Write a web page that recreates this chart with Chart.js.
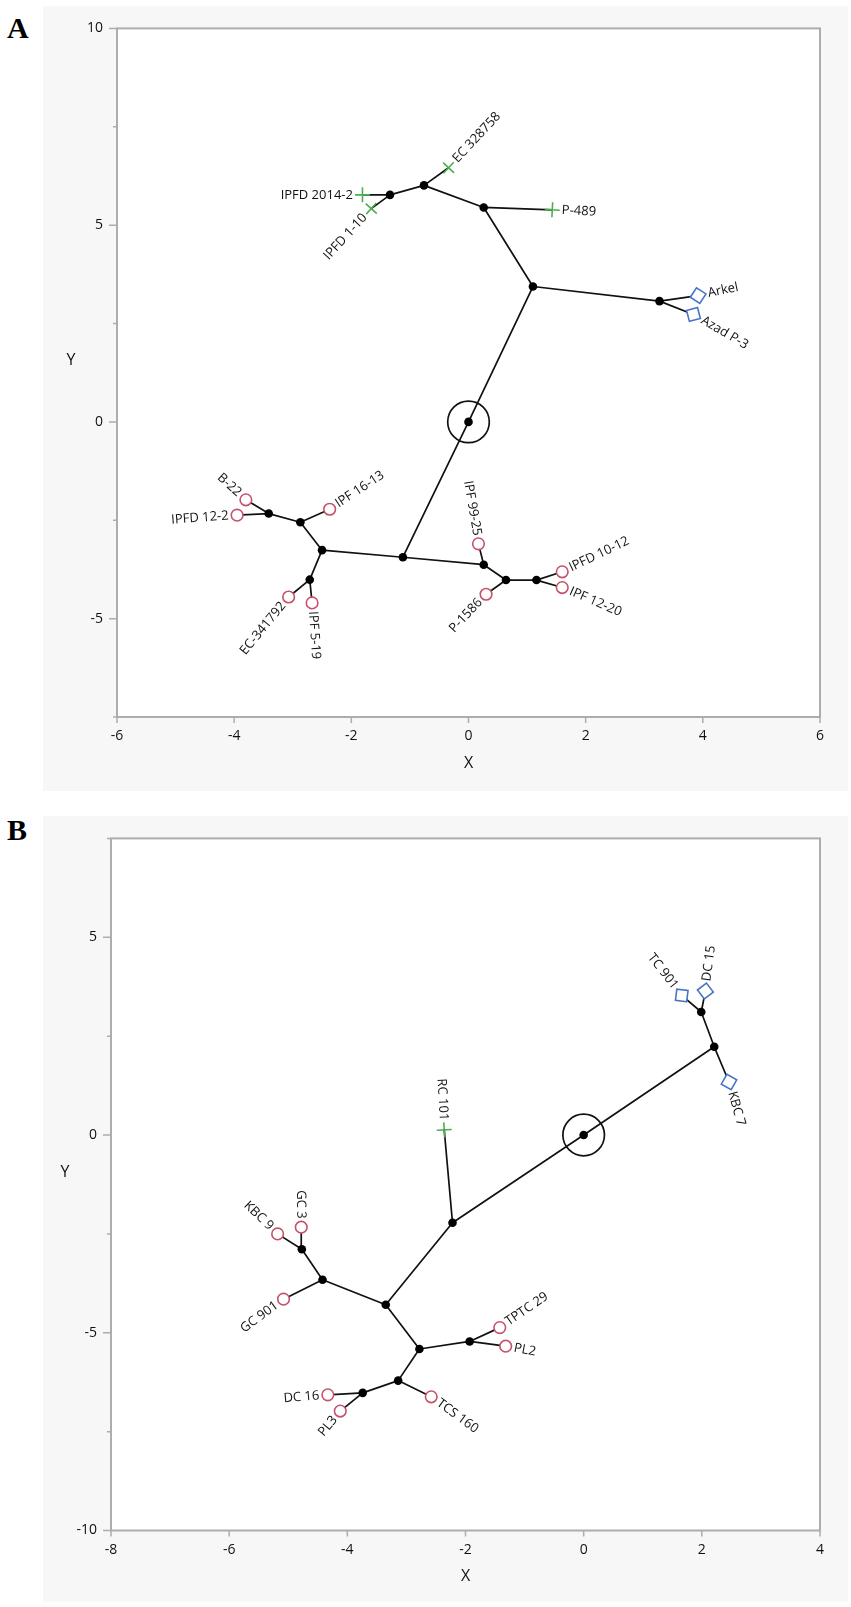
<!DOCTYPE html>
<html>
<head>
<meta charset="utf-8">
<script src="https://cdn.jsdelivr.net/npm/chart.js@4.4.1/dist/chart.umd.min.js"></script>
<style>
  html, body { margin: 0; padding: 0; background: #fff; }
  body { width: 851px; height: 1607px; position: relative; overflow: hidden; }
  .panel { position: absolute; left: 43px; width: 805px; background: #f7f7f7; }
  #panelA { top: 6px; height: 785px; }
  #panelB { top: 816px; height: 786px; }
  .tag { position: absolute; left: 7px; font: bold 30px "Liberation Serif", serif; line-height: 1; color: #000; }
</style>
</head>
<body>
<div class="tag" style="top:13px">A</div>
<div class="tag" style="top:815px">B</div>
<div class="panel" id="panelA"><canvas id="chartA"></canvas></div>
<div class="panel" id="panelB"><canvas id="chartB"></canvas></div>

<script>
// ---- panel A : internal nodes (0 = root), leaves, parents ----
const aNodeX = [0, 1.10, 0.26, -0.76, -1.34, 3.26, -1.12, -2.50, -2.87, -3.41, -2.71, 0.26, 0.64, 1.16];
const aNodeY = [0, 3.44, 5.45, 6.01, 5.77, 3.07, -3.44, -3.26, -2.55, -2.33, -4.01, -3.63, -4.02, -4.02];
const aNodeParent = [-1, 0, 1, 2, 3, 1, 0, 6, 7, 8, 7, 6, 11, 12];

const aLeafNames = ["IPFD 2014-2", "IPFD 1-10", "EC 328758", "P-489", "Arkel", "Azad P-3", "B-22", "IPFD 12-2",
                    "IPF 16-13", "EC-341792", "IPF 5-19", "IPF 99-25", "P-1586", "IPFD 10-12", "IPF 12-20"];
const aLeafX = [-1.81, -1.66, -0.34, 1.43, 3.92, 3.84, -3.80, -3.95, -2.37, -3.07, -2.67, 0.17, 0.30, 1.60, 1.60];
const aLeafY = [5.77, 5.42, 6.46, 5.39, 3.21, 2.73, -1.98, -2.37, -2.22, -4.45, -4.60, -3.10, -4.38, -3.81, -4.21];
const aLeafParent = [4, 4, 3, 2, 5, 5, 9, 9, 8, 10, 10, 11, 12, 13, 13];
const aLeafGroup = [0, 0, 0, 0, 2, 2, 1, 1, 1, 1, 1, 1, 1, 1, 1];   // 0 cross, 1 circle, 2 diamond
const aXRange = [-6, 6];
const aYRange = [-7.5, 10];
const aYLabels = [10, 5, 0, -5];

// ---- panel B ----
const bNodeX = [0, 2.21, 1.99, -2.22, -3.35, -4.42, -4.77, -2.78, -1.93, -3.14, -3.74];
const bNodeY = [0, 2.23, 3.11, -2.22, -4.29, -3.66, -2.89, -5.41, -5.22, -6.21, -6.52];
const bNodeParent = [-1, 0, 1, 0, 3, 4, 5, 4, 7, 7, 9];

const bLeafNames = ["TC 901", "DC 15", "KBC 7", "RC 101", "KBC 9", "GC 3", "GC 901", "TPTC 29", "PL2", "TCS 160", "DC 16", "PL3"];
const bLeafX = [1.66, 2.06, 2.46, -2.36, -5.18, -4.78, -5.08, -1.42, -1.32, -2.58, -4.33, -4.12];
const bLeafY = [3.53, 3.64, 1.34, 0.13, -2.50, -2.33, -4.15, -4.87, -5.34, -6.62, -6.57, -6.98];
const bLeafParent = [2, 2, 1, 3, 6, 6, 5, 8, 8, 9, 10, 10];
const bLeafGroup = [2, 2, 2, 0, 1, 1, 1, 1, 1, 1, 1, 1];
const bXRange = [-8, 4];
const bYRange = [-10, 7.5];
const bYLabels = [5, 0, -5, -10];

const groupStyle = [
    { pointStyle: "cross",   radius: 7.5, color: "#4cae4f", offset: 9.5 },
    { pointStyle: "circle",  radius: 5.8, color: "#c7506a", offset: 8.5 },
    { pointStyle: "rectRot", radius: 8,   color: "#4a74c4", offset: 10 }
];

const FONT = '"Open Sans", sans-serif';
Chart.defaults.font.family = FONT;

// branch direction, measured in data units (screen y points down)
function leafAngle(d, i) {
    const p = d.leafParent[i];
    return Math.atan2(-(d.leafY[i] - d.nodeY[p]), d.leafX[i] - d.nodeX[p]);
}

function makeChart(id, d) {
    // branches: node->node and node->leaf, separated by gaps
    const edges = [];
    d.nodeParent.forEach((p, i) => {
        if (p < 0) return;
        edges.push({ x: d.nodeX[p], y: d.nodeY[p] }, { x: d.nodeX[i], y: d.nodeY[i] }, { x: null, y: null });
    });
    d.leafParent.forEach((p, i) => {
        edges.push({ x: d.nodeX[p], y: d.nodeY[p] }, { x: d.leafX[i], y: d.leafY[i] }, { x: null, y: null });
    });

    const leafSets = groupStyle.map((g, gi) => ({
        type: "scatter",
        order: 1,
        data: d.leafGroup.map((grp, i) => grp === gi ? { x: d.leafX[i], y: d.leafY[i], i } : null).filter(Boolean),
        pointStyle: g.pointStyle,
        pointRadius: g.radius,
        pointBorderWidth: 1.6,
        pointBorderColor: g.color,
        pointBackgroundColor: "#ffffff",
        pointRotation: ctx => ctx.raw ? leafAngle(d, ctx.raw.i) * 180 / Math.PI : 0
    }));

    const framePlugin = {
        id: "frame" + id,
        beforeDraw(chart) {
            const { ctx, chartArea: a } = chart;
            ctx.save();
            ctx.fillStyle = "#ffffff";
            ctx.fillRect(a.left, a.top, a.right - a.left, a.bottom - a.top);
            ctx.restore();
        },
        afterDatasetsDraw(chart) {
            const ctx = chart.ctx;
            const xs = chart.scales.x, ys = chart.scales.y;
            ctx.save();
            ctx.font = "13px " + FONT;
            ctx.fillStyle = "#111111";
            ctx.textBaseline = "middle";
            d.leafNames.forEach((name, i) => {
                const a = leafAngle(d, i);
                const off = groupStyle[d.leafGroup[i]].offset;
                const px = xs.getPixelForValue(d.leafX[i]) + off * Math.cos(a);
                const py = ys.getPixelForValue(d.leafY[i]) + off * Math.sin(a);
                ctx.save();
                ctx.translate(px, py);
                if (Math.cos(a) >= 0) {
                    ctx.rotate(a);
                    ctx.textAlign = "left";
                } else {
                    ctx.rotate(a + Math.PI);
                    ctx.textAlign = "right";
                }
                ctx.fillText(name, 0, 0);
                ctx.restore();
            });
            ctx.restore();
        },
        afterDraw(chart) {
            const { ctx, chartArea: a } = chart;
            const xs = chart.scales.x, ys = chart.scales.y;
            ctx.save();
            ctx.strokeStyle = "#adadad";
            ctx.lineWidth = 2;
            ctx.strokeRect(a.left, a.top, a.right - a.left, a.bottom - a.top);
            ctx.lineWidth = 1.5;
            ctx.beginPath();
            ys.ticks.forEach(t => {
                const y = ys.getPixelForValue(t.value);
                const len = d.yLabels.includes(t.value) ? 8 : 4;
                ctx.moveTo(a.left - len, y);
                ctx.lineTo(a.left, y);
            });
            xs.ticks.forEach(t => {
                const x = xs.getPixelForValue(t.value);
                ctx.moveTo(x, a.bottom);
                ctx.lineTo(x, a.bottom + 6);
            });
            ctx.stroke();
            // horizontal "Y" title at the left
            ctx.font = "16px " + FONT;
            ctx.fillStyle = "#111111";
            ctx.textAlign = "center";
            ctx.textBaseline = "middle";
            ctx.fillText("Y", a.left - 46, (a.top + a.bottom) / 2 - 12);
            ctx.restore();
        }
    };

    return new Chart(document.getElementById(id), {
        type: "scatter",
        data: {
            datasets: [
                ...leafSets,
                {
                    type: "scatter",
                    order: 2,
                    data: d.nodeX.map((x, i) => ({ x, y: d.nodeY[i] })),
                    pointRadius: 4.3,
                    pointBorderWidth: 0,
                    pointBackgroundColor: "#000000"
                },
                {
                    type: "scatter",
                    order: 3,
                    data: [{ x: d.nodeX[0], y: d.nodeY[0] }],
                    pointRadius: 20.8,
                    pointBorderWidth: 1.7,
                    pointBorderColor: "#111111",
                    pointBackgroundColor: "rgba(0,0,0,0)"
                },
                {
                    type: "line",
                    order: 4,
                    data: edges,
                    borderColor: "#111111",
                    borderWidth: 1.7,
                    pointRadius: 0,
                    spanGaps: false,
                    fill: false,
                    tension: 0
                }
            ]
        },
        options: {
            responsive: true,
            maintainAspectRatio: false,
            animation: false,
            events: [],
            layout: { autoPadding: false, padding: { top: d.padTop, right: 28, left: 0, bottom: 0 } },
            plugins: { legend: { display: false }, tooltip: { enabled: false } },
            scales: {
                x: {
                    type: "linear",
                    min: d.xRange[0],
                    max: d.xRange[1],
                    grid: { display: false, drawTicks: false },
                    border: { display: false },
                    ticks: { stepSize: 2, padding: 11, color: "#111111", font: { size: 14 }, maxRotation: 0, autoSkip: false },
                    title: { display: true, text: "X", color: "#111111", font: { size: 16 }, padding: { top: 0, bottom: d.xH - 46 - 9.6 } },
                    afterFit(s) { s.height = d.xH; }
                },
                y: {
                    type: "linear",
                    min: d.yRange[0],
                    max: d.yRange[1],
                    grid: { display: false, drawTicks: false },
                    border: { display: false },
                    ticks: {
                        stepSize: 2.5, padding: 14, color: "#111111", font: { size: 14 }, autoSkip: false,
                        callback: v => d.yLabels.includes(v) ? String(v) : ""
                    },
                    afterFit(s) { s.width = d.yW; }
                }
            }
        },
        plugins: [framePlugin]
    });
}

makeChart("chartA", {
    nodeX: aNodeX, nodeY: aNodeY, nodeParent: aNodeParent,
    leafNames: aLeafNames, leafX: aLeafX, leafY: aLeafY, leafParent: aLeafParent, leafGroup: aLeafGroup,
    xRange: aXRange, yRange: aYRange, yLabels: aYLabels,
    padTop: 11, yW: 74, xH: 74
});
makeChart("chartB", {
    nodeX: bNodeX, nodeY: bNodeY, nodeParent: bNodeParent,
    leafNames: bLeafNames, leafX: bLeafX, leafY: bLeafY, leafParent: bLeafParent, leafGroup: bLeafGroup,
    xRange: bXRange, yRange: bYRange, yLabels: bYLabels,
    padTop: 13, yW: 68, xH: 71.5
});
</script>
</body>
</html>
